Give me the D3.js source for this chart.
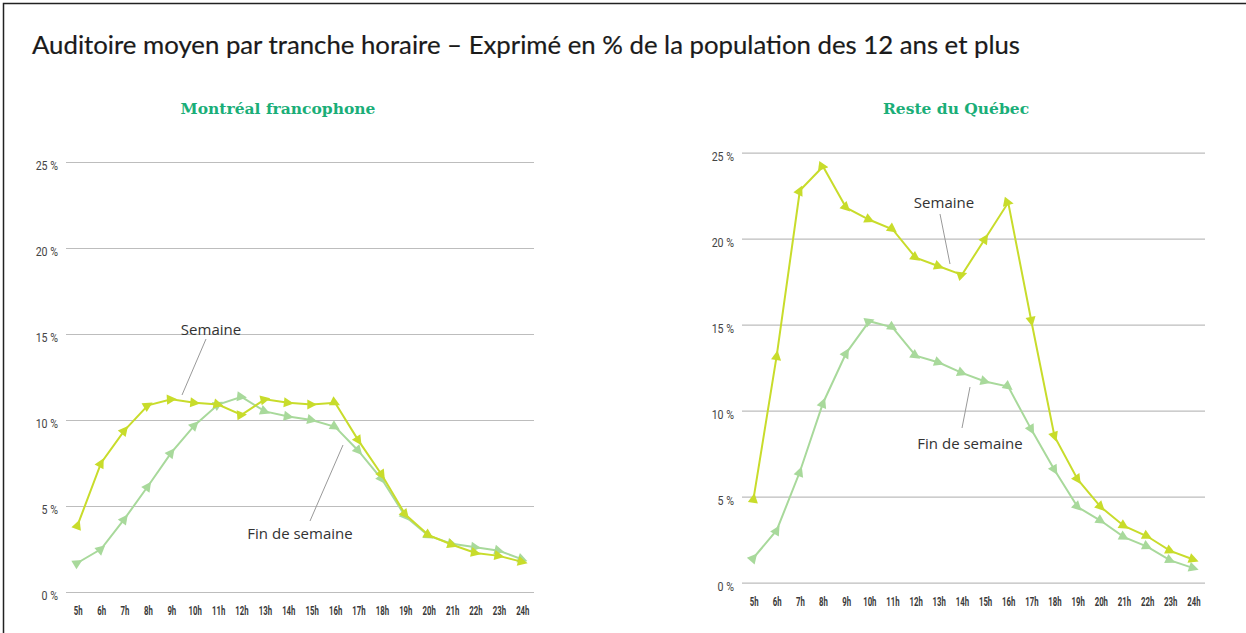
<!DOCTYPE html>
<html lang="fr">
<head>
<meta charset="utf-8">
<title>Auditoire moyen par tranche horaire</title>
<script src="https://cdn.jsdelivr.net/npm/d3@7"></script>
<style>
  html, body { margin: 0; padding: 0; background: #fff; }
  svg { display: block; }
</style>
</head>
<body>
<div id="chart"></div>
<script>
// Tranches horaires et valeurs (% de la population des 12 ans et plus)
const hours = ["5h", "6h", "7h", "8h", "9h", "10h", "11h", "12h", "13h", "14h",
  "15h", "16h", "17h", "18h", "19h", "20h", "21h", "22h", "23h", "24h"];

const mtlSemaine = [3.9, 7.5, 9.4, 10.85, 11.2, 11.0, 10.9, 10.3, 11.2, 11.0,
  10.9, 11.0, 8.8, 6.8, 4.5, 3.3, 2.75, 2.27, 2.1, 1.75];
const mtlFinSemaine = [1.7, 2.5, 4.25, 6.15, 8.1, 9.7, 10.9, 11.35, 10.5, 10.2,
  10.0, 9.6, 8.2, 6.55, 4.4, 3.27, 2.8, 2.6, 2.4, 1.9];

const rdqSemaine = [4.9, 13.2, 22.8, 24.2, 21.8, 21.1, 20.55, 18.9, 18.4, 17.9,
  20.0, 22.1, 15.2, 8.5, 6.0, 4.4, 3.3, 2.7, 1.85, 1.35];
const rdqFinSemaine = [1.45, 3.05, 6.45, 10.45, 13.35, 15.2, 14.85, 13.2, 12.8, 12.2,
  11.7, 11.4, 8.9, 6.55, 4.4, 3.6, 2.65, 2.1, 1.3, 0.85];

const yTicks = [0, 5, 10, 15, 20, 25];
const seriesNames = ["Semaine", "Fin de semaine"];

const colors = { semaine: "#c8dc2b", fin: "#a8d99b", grid: "#bdbdbd", title: "#1aae78" };

const W = 1246, H = 633;

const svg = d3.select("#chart").append("svg")
  .attr("width", W)
  .attr("height", H);

// Cadre
svg.append("rect")
  .attr("x", 3.5).attr("y", 3.5)
  .attr("width", W + 10).attr("height", H + 10)
  .attr("fill", "none")
  .attr("stroke", "#222")
  .attr("stroke-width", 1.5);

// Titre principal, ajusté à la largeur de la référence
const mainTitle = svg.append("text")
  .attr("x", 32).attr("y", 54)
  .style("font-family", "Lato, 'Noto Sans', sans-serif")
  .style("font-size", "24px")
  .style("fill", "#1a1a1a")
  .style("stroke", "#1a1a1a")
  .style("stroke-width", 0.2)
  .text("Auditoire moyen par tranche horaire – Exprimé en % de la population des 12 ans et plus");
const tw = mainTitle.node().getComputedTextLength();
mainTitle.style("font-size", (24 * 988 / tw).toFixed(2) + "px");

// Marqueurs triangulaires orientés selon la ligne
function addMarker(id, color) {
  svg.append("defs").append("marker")
    .attr("id", id)
    .attr("viewBox", "-5 -5 10 10")
    .attr("markerUnits", "userSpaceOnUse")
    .attr("markerWidth", 11)
    .attr("markerHeight", 11)
    .attr("orient", "auto")
    .append("path")
    .attr("d", "M5,0 L-4,-4.6 L-4,4.6 Z")
    .attr("fill", color);
}
addMarker("tri-semaine", colors.semaine);
addMarker("tri-fin", colors.fin);

function drawPanel(p) {
  const x = d3.scalePoint().domain(hours).range([p.left, p.right]).padding(0.5);
  const y = d3.scaleLinear().domain([0, 25]).range([p.bottom, p.top]);

  const g = svg.append("g");

  // Titre du panneau
  g.append("text")
    .attr("x", p.titleX).attr("y", 114)
    .attr("text-anchor", "middle")
    .style("font-family", "'DejaVu Serif', serif")
    .style("font-weight", "bold")
    .style("font-size", "15.5px")
    .style("fill", colors.title)
    .text(p.title);

  // Axe Y : grille et étiquettes
  const yAxis = g.append("g")
    .attr("transform", `translate(${p.left},0)`)
    .call(d3.axisLeft(y).tickValues(yTicks)
      .tickSize(-(p.right - p.left))
      .tickPadding(0)
      .tickFormat(d => d + " %"));
  yAxis.select(".domain").remove();
  yAxis.selectAll(".tick line")
    .attr("stroke", colors.grid)
    .attr("stroke-width", 1.2);
  yAxis.selectAll(".tick text")
    .attr("x", null)
    .attr("dy", "0.6em")
    .attr("transform", "translate(-8,0) scale(0.85,1)")
    .style("font-family", "Roboto, sans-serif")
    .style("font-size", "12.5px")
    .style("fill", "#444");

  // Axe X : étiquettes seules
  const xAxis = g.append("g")
    .attr("transform", `translate(0,${p.bottom})`)
    .call(d3.axisBottom(x).tickSize(0).tickPadding(14));
  xAxis.select(".domain").remove();
  xAxis.selectAll(".tick text")
    .attr("transform", "scale(0.6,1)")
    .style("font-family", "Roboto, sans-serif")
    .style("font-weight", "bold")
    .style("font-size", "13px")
    .style("fill", "#3a3a3a");

  // Lignes
  const line = d3.line()
    .x((d, i) => x(hours[i]))
    .y(d => y(d));

  [
    { values: p.fin, color: colors.fin, marker: "tri-fin" },
    { values: p.semaine, color: colors.semaine, marker: "tri-semaine" }
  ].forEach(s => {
    g.append("path")
      .datum(s.values)
      .attr("d", line)
      .attr("fill", "none")
      .attr("stroke", s.color)
      .attr("stroke-width", 2)
      .attr("marker-start", `url(#${s.marker})`)
      .attr("marker-mid", `url(#${s.marker})`)
      .attr("marker-end", `url(#${s.marker})`);
  });

  // Annotations
  p.labels.forEach(l => {
    g.append("line")
      .attr("x1", l.x1).attr("y1", l.y1)
      .attr("x2", l.x2).attr("y2", l.y2)
      .attr("stroke", "#999")
      .attr("stroke-width", 1);
    g.append("text")
      .attr("x", l.tx).attr("y", l.ty)
      .attr("text-anchor", "middle")
      .style("font-family", "'Open Sans', sans-serif")
      .style("font-size", "15px")
      .style("fill", "#333")
      .text(l.text);
  });
}

drawPanel({
  title: "Montréal francophone", titleX: 278,
  left: 66, right: 534, top: 162, bottom: 592,
  semaine: mtlSemaine, fin: mtlFinSemaine,
  labels: [
    { text: seriesNames[0], tx: 211, ty: 335, x1: 206, y1: 339, x2: 182, y2: 395 },
    { text: seriesNames[1], tx: 300, ty: 539, x1: 310, y1: 521, x2: 343, y2: 445 }
  ]
});

drawPanel({
  title: "Reste du Québec", titleX: 956,
  left: 742, right: 1205, top: 152.7, bottom: 582.7,
  semaine: rdqSemaine, fin: rdqFinSemaine,
  labels: [
    { text: seriesNames[0], tx: 944, ty: 208, x1: 940, y1: 214, x2: 950, y2: 264 },
    { text: seriesNames[1], tx: 970, ty: 449, x1: 962, y1: 428, x2: 970, y2: 387 }
  ]
});
</script>
</body>
</html>
